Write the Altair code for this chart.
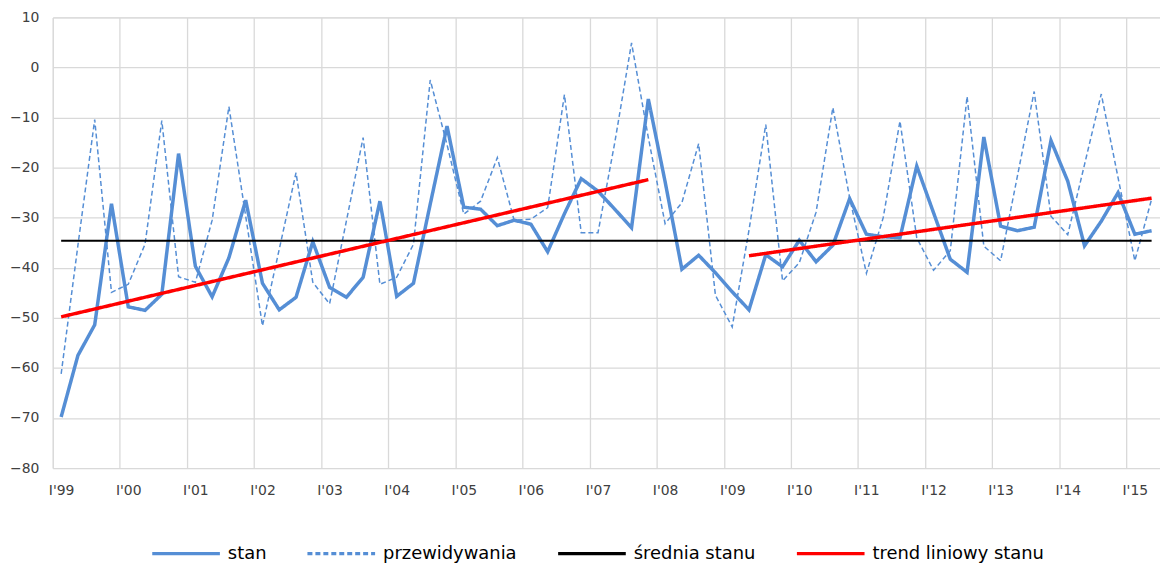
import json
import altair as alt
import pandas as pd

# quarterly observations I'99 .. II'15 (66 quarters)
stan = [
    -69.8, -57.5, -51.4, -27.2,
    -47.8, -48.5, -45.3, -17.2,
    -39.7, -45.8, -38.0, -26.5,
    -43.1, -48.4, -45.9, -34.8,
    -43.9, -45.9, -41.9, -26.7,
    -45.7, -43.1, -27.3, -11.7,
    -27.9, -28.3, -31.6, -30.5,
    -31.3, -36.8, -29.2, -22.2,
    -24.7, -28.3, -32.0, -6.3,
    -22.8, -40.3, -37.5, -41.0,
    -44.8, -48.4, -37.4, -39.8,
    -34.5, -38.8, -35.5, -26.2,
    -33.3, -33.8, -34.0, -19.7,
    -29.0, -38.3, -40.9, -13.9,
    -31.7, -32.6, -31.9, -14.6,
    -22.7, -35.6, -30.7, -25.0,
    -33.3, -32.6,
]
przewidywania = [
    -61.2, -35.5, -10.4, -44.9,
    -43.3, -35.3, -10.6, -41.8,
    -42.9, -30.5, -7.8, -29.7,
    -51.6, -36.3, -21.0, -42.9,
    -47.2, -30.7, -14.0, -43.3,
    -41.9, -35.3, -2.5, -15.4,
    -29.3, -26.7, -18.0, -30.5,
    -30.3, -28.0, -5.4, -33.0,
    -33.0, -15.0, 4.9, -14.0,
    -31.2, -27.0, -15.2, -45.5,
    -51.8, -32.5, -11.4, -42.6,
    -39.0, -28.9, -8.0, -26.0,
    -41.1, -30.0, -10.7, -34.0,
    -40.5, -36.6, -5.8, -35.7,
    -38.6, -21.7, -4.8, -29.7,
    -33.4, -19.4, -5.3, -22.0,
    -38.6, -26.3,
]
srednia_stanu = -34.6
# linear trend of "stan": two segments (quarter index, value)
trend_q = [0, 35, 41, 65]
trend_v = [-49.8, -22.4, -37.6, -26.1]
trend_seg = ["t1", "t1", "t2", "t2"]

year_labels = ["I'99", "I'00", "I'01", "I'02", "I'03", "I'04", "I'05", "I'06",
               "I'07", "I'08", "I'09", "I'10", "I'11", "I'12", "I'13", "I'14", "I'15"]

series = ["stan", "przewidywania", "średnia stanu", "trend liniowy stanu"]
colors = ["#558ED5", "#558ED5", "#000000", "#FF0000"]
dashes = [[1, 0], [5, 3], [1, 0], [1, 0]]
widths = [3.5, 1.5, 2, 3.5]

n = len(stan)
rows = []
for i in range(n):
    rows.append({"q": i, "v": stan[i], "s": series[0], "seg": "a"})
for i in range(n):
    rows.append({"q": i, "v": przewidywania[i], "s": series[1], "seg": "b"})
rows.append({"q": 0, "v": srednia_stanu, "s": series[2], "seg": "m"})
rows.append({"q": n - 1, "v": srednia_stanu, "s": series[2], "seg": "m"})
for q, v, sg in zip(trend_q, trend_v, trend_seg):
    rows.append({"q": q, "v": v, "s": series[3], "seg": sg})
df = pd.DataFrame(rows)

FONT = "DejaVu Sans"
W, H = 1113, 453
quarter_px = W / n

grid_vals = [4 * k - 0.5 for k in range(len(year_labels))]
label_expr = json.dumps(year_labels) + "[round((datum.value + 0.5) / 4)]"

leg = alt.Legend(
    title=None, orient="none", direction="horizontal",
    legendX=98, legendY=503,
    symbolType="stroke", symbolSize=4624, symbolStrokeWidth=3.5,
    labelFont=FONT, labelFontSize=18, labelColor="#000000", labelLimit=400,
    labelOffset=6, columnPadding=34,
)

x_enc = alt.X("q:Q",
              scale=alt.Scale(domain=[-0.5, n - 0.5], nice=False, zero=False),
              axis=alt.Axis(values=grid_vals, labelExpr=label_expr, labelOffset=quarter_px / 2,
                            grid=True, gridColor="#D9D9D9", gridWidth=1.3, ticks=False, domain=False,
                            title=None, labelFont=FONT, labelFontSize=14, labelColor="#404040",
                            labelPadding=16, labelOverlap=False, labelBound=False, labelFlush=False))
y_enc = alt.Y("v:Q",
              scale=alt.Scale(domain=[-80, 10], nice=False, zero=False),
              axis=alt.Axis(values=list(range(-80, 11, 10)), grid=True, gridColor="#D9D9D9",
                            gridWidth=1.3, ticks=False, domain=False, title=None,
                            labelFont=FONT, labelFontSize=14, labelColor="#404040",
                            labelPadding=14))

layers = []
for s, w in zip(series, widths):
    layers.append(
        alt.Chart(df).transform_filter(alt.datum.s == s).mark_line(strokeWidth=w).encode(
            x=x_enc,
            y=y_enc,
            color=alt.Color("s:N", scale=alt.Scale(domain=series, range=colors), legend=leg),
            strokeDash=alt.StrokeDash("s:N", scale=alt.Scale(domain=series, range=dashes), legend=leg),
            detail="seg:N",
        )
    )

chart = alt.layer(*layers).properties(
    width=W, height=H,
    autosize=alt.AutoSizeParams(type="none"),
    padding={"left": 45, "top": 8, "right": 0, "bottom": 100},
).configure_view(stroke=None).configure(background="white")

chart.save("out.html", embed_options={"renderer": "svg", "actions": False})
